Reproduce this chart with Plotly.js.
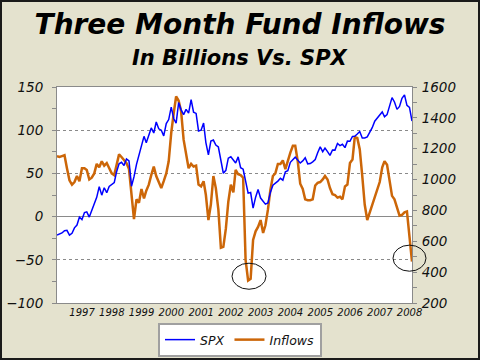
<!DOCTYPE html>
<html>
<head>
<meta charset="utf-8">
<script src="https://cdn.plot.ly/plotly-3.0.1.min.js"></script>
<style>
  html, body { margin: 0; padding: 0; background: #E4E2CE; }
  #wrap { position: relative; width: 480px; height: 360px; }
  #chart { width: 480px; height: 360px; }
  #frame { position: absolute; left: 0; top: 0; width: 480px; height: 360px;
           box-sizing: border-box; border: 2px solid #1a1a1a; pointer-events: none; }
</style>
</head>
<body>
<div id="wrap"><div id="chart"></div><div id="frame"></div></div>
<script>
// ---- data (monthly, Feb 1996 .. Jan 2008, month-end dates) ----
var startYear = 1996, startMonth = 2, monthCount = 144;

var spx = [
  640,
  645, 654, 669, 671, 640, 652, 687, 705, 757, 741,
  786, 791, 757, 801, 848, 885, 954, 899, 947, 915, 955, 970,
  980, 1049, 1102, 1112, 1091, 1134, 1121, 957, 1017, 1099, 1164, 1229,
  1280, 1238, 1286, 1335, 1302, 1373, 1329, 1320, 1283, 1363, 1389, 1469,
  1394, 1366, 1499, 1452, 1421, 1455, 1431, 1518, 1437, 1429, 1315, 1320,
  1366, 1240, 1160, 1249, 1256, 1224, 1211, 1134, 1041, 1060, 1139, 1148,
  1130, 1107, 1147, 1077, 1067, 990, 912, 916, 815, 886, 936, 880,
  856, 841, 848, 917, 964, 975, 990, 1008, 996, 1051, 1058, 1112,
  1131, 1145, 1126, 1107, 1121, 1141, 1102, 1104, 1115, 1130, 1174, 1212,
  1181, 1204, 1181, 1157, 1192, 1191, 1234, 1220, 1229, 1207, 1249, 1248,
  1280, 1281, 1295, 1311, 1270, 1270, 1277, 1304, 1336, 1378, 1401, 1418,
  1438, 1407, 1421, 1482, 1531, 1503, 1455, 1474, 1527, 1549, 1481, 1468,
  1379
];

var inflows = [
  70, 69, 70, 71, 56, 42, 37, 40, 47, 41, 56, 56,
  54, 43, 45, 50, 61, 57, 64, 59, 62, 56, 50, 48,
  60, 72, 69, 65, 62, 55, 22, -3, 20, 16, 32, 21,
  30, 37, 48, 58, 47, 41, 33, 41, 50, 64, 97, 120,
  139, 134, 122, 89, 70, 56, 61, 58, 59, 37, 35, 41,
  25, -4, 14, 47, 33, 8, -36, -35, -14, 17, 37, 28,
  54, 49, 48, 45, -50, -74, -72, -27, -17, -12, -4, -19,
  -10, 8, 31, 47, 50, 61, 61, 65, 55, 65, 74, 82,
  82, 64, 38, 32, 20, 19, 19, 20, 36, 39, 40, 43,
  47, 43, 33, 26, 25, 22, 23, 20, 35, 37, 62, 66,
  92, 91, 78, 47, 14, -4, 5, 15, 25, 31, 40, 57,
  64, 60, 40, 24, 20, 10, 1, 2, 5, 6, -25, -52
];

var yearTicks = ['1997-01-01','1998-01-01','1999-01-01','2000-01-01','2001-01-01','2002-01-01',
                 '2003-01-01','2004-01-01','2005-01-01','2006-01-01','2007-01-01','2008-01-01'];
var yearLabels = ['1997','1998','1999','2000','2001','2002','2003','2004','2005','2006','2007','2008'];

var leftTicks = [-100, -50, 0, 50, 100, 150];
var rightTicks = [200, 400, 600, 800, 1000, 1200, 1400, 1600];

// month-end date strings
function pad(n) { return (n < 10 ? '0' : '') + n; }
var months = [];
for (var k = 0; k < monthCount; k++) {
  var d = new Date(Date.UTC(startYear, startMonth - 1 + k + 1, 0));
  months.push(d.getUTCFullYear() + '-' + pad(d.getUTCMonth() + 1) + '-' + pad(d.getUTCDate()));
}

var FONT = 'DejaVu Sans, Verdana, sans-serif';
var gray = '#8a8a8a';

var traces = [
  { x: months, y: spx, name: 'SPX', yaxis: 'y2', type: 'scatter', mode: 'lines',
    line: { color: '#0000FF', width: 1.5 } },
  { x: months, y: inflows, name: 'Inflows', type: 'scatter', mode: 'lines',
    line: { color: '#CC6608', width: 2.5 } }
];

var layout = {
  width: 480, height: 360,
  paper_bgcolor: '#E4E2CE', plot_bgcolor: '#FFFFFF',
  margin: { l: 57, r: 68, t: 87, b: 57, pad: 0 },
  font: { family: FONT, color: '#111' },
  title: {
    text: 'Three Month Fund Inflows',
    font: { family: FONT, size: 28, weight: 'bold', style: 'italic', color: '#000' },
    xref: 'container', x: 0.5, xanchor: 'center',
    yref: 'container', y: 0.933, yanchor: 'middle'
  },
  annotations: [{
    text: 'In Billions Vs. SPX', showarrow: false,
    xref: 'paper', x: (240 - 57) / 355, xanchor: 'center',
    yref: 'paper', y: (302.7 - 58) / 215.4, yanchor: 'middle',
    font: { family: FONT, size: 21, weight: 'bold', style: 'italic', color: '#000' }
  }],
  xaxis: {
    type: 'date', range: [months[0], months[months.length - 1]],
    tickmode: 'array', tickvals: yearTicks, ticktext: yearLabels,
    tickfont: { family: FONT, size: 10, style: 'italic', color: '#111' },
    showgrid: false, zeroline: false, ticks: '',
    showline: true, linecolor: gray, linewidth: 1, mirror: true
  },
  yaxis: {
    range: [-100, 150], tickmode: 'array', tickvals: leftTicks,
    tickfont: { family: FONT, size: 13.5, style: 'italic', color: '#111' },
    showgrid: true, gridcolor: gray, griddash: 'dot', gridwidth: 1,
    zeroline: true, zerolinecolor: gray, zerolinewidth: 1,
    showline: true, linecolor: gray, linewidth: 1,
    ticks: 'outside', ticklen: 4, tickcolor: gray, ticklabelstandoff: 6,
    minor: { dtick: 25, ticks: 'outside', ticklen: 4, tickcolor: gray, showgrid: false }
  },
  yaxis2: {
    overlaying: 'y', side: 'right',
    range: [200, 1600], tickmode: 'array', tickvals: rightTicks,
    tickfont: { family: FONT, size: 13.5, style: 'italic', color: '#111' },
    showgrid: false, zeroline: false,
    showline: true, linecolor: gray, linewidth: 1,
    ticks: 'outside', ticklen: 4, tickcolor: gray, ticklabelstandoff: 2,
    minor: { dtick: 100, ticks: 'outside', ticklen: 4, tickcolor: gray, showgrid: false }
  },
  showlegend: true,
  legend: {
    orientation: 'h', xref: 'container', x: 0.5, xanchor: 'center',
    yref: 'container', y: 1 - 323 / 360, yanchor: 'top',
    bgcolor: '#FFFFFF', bordercolor: '#A0A0A0', borderwidth: 2,
    font: { family: FONT, size: 12.5, style: 'italic', color: '#111' },
    itemwidth: 30, traceorder: 'normal'
  },
  shapes: [
    { type: 'circle', xref: 'paper', yref: 'paper',
      x0: (232 - 57) / 355, x1: (266 - 57) / 355,
      y0: (302.7 - 289) / 215.4, y1: (302.7 - 263) / 215.4,
      line: { color: '#111', width: 1 } },
    { type: 'circle', xref: 'paper', yref: 'paper',
      x0: (393 - 57) / 355, x1: (426 - 57) / 355,
      y0: (302.7 - 271) / 215.4, y1: (302.7 - 245) / 215.4,
      line: { color: '#111', width: 1 } }
  ]
};

Plotly.newPlot('chart', traces, layout, { staticPlot: true, displayModeBar: false });
</script>
</body>
</html>
